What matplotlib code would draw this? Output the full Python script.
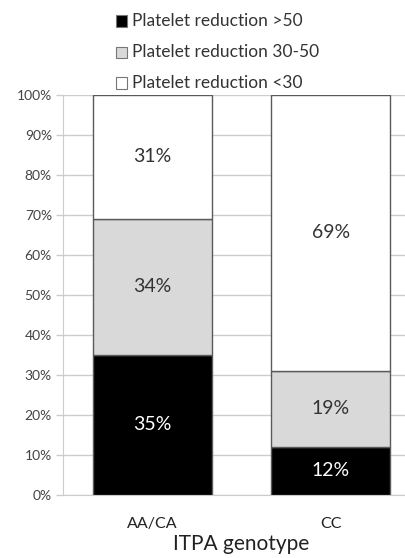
import matplotlib
matplotlib.use("Agg")
import matplotlib.pyplot as plt
from matplotlib.patches import Rectangle
import numpy as np

categories = ["AA/CA", "CC"]
series_names = ["Platelet reduction >50", "Platelet reduction 30-50", "Platelet reduction <30"]
values_gt50 = [35, 12]
values_30_50 = [34, 19]
values_lt30 = [31, 69]
yticks = list(range(0, 101, 10))

colors = ["#000000", "#d9d9d9", "#ffffff"]
text_colors = ["#ffffff", "#333333", "#333333"]

plt.rcParams['font.family'] = ['Lato', 'DejaVu Sans']

W, H = 405, 558
fig = plt.figure(figsize=(W / 100, H / 100), dpi=100)
ax = fig.add_axes([63 / W, 1 - 495 / H, 357 / W, 400 / H])

x = np.arange(len(categories))
bottom = np.zeros(len(categories))
series = [values_gt50, values_30_50, values_lt30]
for vals, c, tc in zip(series, colors, text_colors):
    vals = np.array(vals, dtype=float)
    ax.bar(x, vals, bottom=bottom, width=0.667, color=c, edgecolor="#5a5a5a",
           linewidth=1.0, zorder=3)
    for xi, b, v in zip(x, bottom, vals):
        ax.text(xi, b + v / 2, f"{int(v)}%", ha="center", va="center",
                color=tc, fontsize=14, zorder=4)
    bottom += vals

ax.set_xlim(-0.5, 1.5)
ax.set_ylim(0, 100)
ax.set_yticks(yticks)
ax.set_yticklabels([f"{t}%" for t in yticks], fontsize=10, color="#444444")
ax.set_xticks(x)
ax.set_xticklabels(categories, fontsize=11.5, color="#222222")
ax.tick_params(axis="x", length=0, pad=16)
ax.tick_params(axis="y", length=5, color="#cccccc", width=1, pad=3)
ax.yaxis.grid(True, color="#cccccc", linewidth=1, zorder=0)
ax.set_axisbelow(True)
for s in ["top", "right"]:
    ax.spines[s].set_visible(False)
ax.spines["left"].set_color("#cccccc")
ax.spines["bottom"].set_color("#cccccc")
ax.set_xlabel("ITPA genotype", fontsize=15, color="#222222", labelpad=2)

# legend (manual, in pixel positions)
row_y = [21, 52, 83]
for name, c, yy in zip(series_names, colors, row_y):
    fig.patches.append(Rectangle((116 / W, 1 - (yy + 5.5) / H), 11 / W, 11 / H,
                                 transform=fig.transFigure, facecolor=c,
                                 edgecolor="#777777", linewidth=0.8))
    fig.text(132 / W, 1 - yy / H, name, ha="left", va="center",
             fontsize=12.5, color="#333333")

fig.savefig("out.png", dpi=100)
